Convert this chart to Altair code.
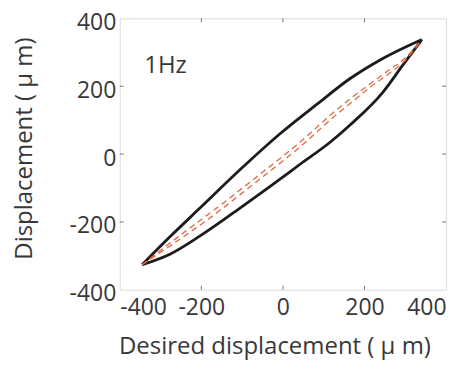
import altair as alt
import pandas as pd

# Black loop (measured displacement), two branches
black_up_x = [-345, -277, -204, -106, -7, 91, 164, 245, 341]
black_up_y = [-326, -244, -160, -47, 60, 154, 222, 282, 338]
black_lo_x = [-345, -277, -204, -106, -7, 42, 115, 164, 245, 294, 341]
black_lo_y = [-326, -295, -242, -160, -74, -30, 34, 85, 182, 262, 338]

# Orange dashed loop (compensated), two branches
orange_up_x = [-345, -260, -199, -137, -81, -25, 42, 74, 123, 164, 214, 263, 294, 341]
orange_up_y = [-326, -247, -192, -136, -83, -30, 35, 69, 122, 162, 207, 250, 277, 338]
orange_lo_x = [-345, -260, -199, -137, -81, -25, 42, 74, 123, 164, 214, 263, 294, 341]
orange_lo_y = [-326, -257, -206, -150, -97, -44, 21, 55, 108, 148, 197, 240, 269, 338]

tick_values = [-400, -200, 0, 200, 400]
inner_ticks = [-200, 0, 200]
note_text = ["1Hz"]
note_x = [-340]
note_y = [240]

W, H = 327, 272
FONT = "Open Sans"
TXT = "#383838"
LFS = 23
TFS = 24

def branch(xs, ys, name):
    return pd.DataFrame({"x": xs, "y": ys, "branch": name})

black = pd.concat([branch(black_up_x, black_up_y, "up"), branch(black_lo_x, black_lo_y, "lo")])
orange = pd.concat([branch(orange_up_x, orange_up_y, "up"), branch(orange_lo_x, orange_lo_y, "lo")])
ticks = pd.DataFrame({"v": inner_ticks})
note = pd.DataFrame({"x": note_x, "y": note_y, "t": note_text})

xs = alt.Scale(domain=[-400, 400], nice=False, zero=False)
ys = alt.Scale(domain=[-400, 400], nice=False, zero=False)

x_axis = alt.Axis(values=tick_values, labelExpr="datum.value", title="Desired displacement ( μ m)",
                  grid=False, domain=False, ticks=False, labelPadding=7,
                  labelFontSize=LFS, titleFontSize=TFS, labelColor=TXT, titleColor=TXT,
                  labelFont=FONT, titleFont=FONT, titleFontWeight="normal",
                  titleX=155, titleY=57, titleAlign="center", titleBaseline="middle")
y_axis = alt.Axis(values=tick_values, labelExpr="datum.value", title="Displacement ( μ m)",
                  grid=False, domain=False, ticks=False, labelPadding=4, labelOffset=4,
                  labelFontSize=LFS, titleFontSize=TFS, labelColor=TXT, titleColor=TXT,
                  labelFont=FONT, titleFont=FONT, titleFontWeight="normal",
                  titleX=-95, titleY=130, titleAlign="center", titleBaseline="middle")

black_layer = alt.Chart(black).mark_line(color="#1c1c1c", strokeWidth=2.8, interpolate="monotone").encode(
    x=alt.X("x:Q", scale=xs, axis=x_axis),
    y=alt.Y("y:Q", scale=ys, axis=y_axis),
    detail="branch:N",
)

orange_layer = alt.Chart(orange).mark_line(color="#e0673f", strokeWidth=1.3, strokeDash=[6, 4],
                                           interpolate="monotone").encode(
    x=alt.X("x:Q", scale=xs),
    y=alt.Y("y:Q", scale=ys),
    detail="branch:N",
)

tick_col = "#777777"
tb = alt.Chart(ticks).mark_rule(color=tick_col, strokeWidth=1).encode(
    x=alt.X("v:Q", scale=xs), y=alt.value(H - 4), y2=alt.value(H))
tt = alt.Chart(ticks).mark_rule(color=tick_col, strokeWidth=1).encode(
    x=alt.X("v:Q", scale=xs), y=alt.value(0), y2=alt.value(4))
tl = alt.Chart(ticks).mark_rule(color=tick_col, strokeWidth=1).encode(
    y=alt.Y("v:Q", scale=ys), x=alt.value(0), x2=alt.value(4))
tr = alt.Chart(ticks).mark_rule(color=tick_col, strokeWidth=1).encode(
    y=alt.Y("v:Q", scale=ys), x=alt.value(W - 4), x2=alt.value(W))

note_layer = alt.Chart(note).mark_text(align="left", baseline="alphabetic", fontSize=TFS,
                                       font=FONT, color=TXT).encode(
    x=alt.X("x:Q", scale=xs), y=alt.Y("y:Q", scale=ys), text="t:N")

chart = alt.layer(black_layer, orange_layer, tb, tt, tl, tr, note_layer).properties(
    width=W, height=H,
    autosize=alt.AutoSizeParams(type="none"),
    padding={"left": 112, "top": 10, "right": 12, "bottom": 76},
).configure_view(stroke="#8a8a8a", strokeWidth=1.2).configure(background="white")

chart.save("out.html", embed_options={"renderer": "svg", "actions": False})
